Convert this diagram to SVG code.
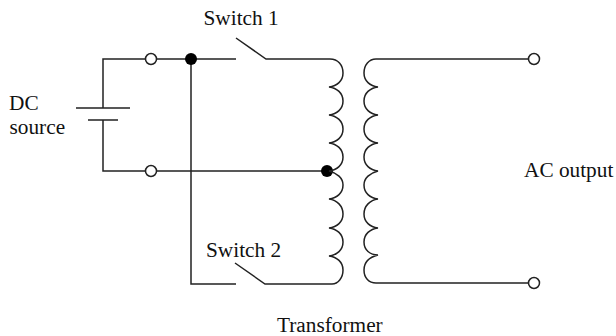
<svg xmlns="http://www.w3.org/2000/svg" width="616" height="336" viewBox="0 0 616 336">
<style>
.w{fill:none;stroke:#222;stroke-width:1.5}
.c{fill:#fff;stroke:#222;stroke-width:1.5}
.d{fill:#000}
text{font-family:"Liberation Serif","Times New Roman",serif;font-size:21.300px;fill:#111}
</style>
<rect width="616" height="336" fill="#fff"/>
<g id="connectors">
<path class="w" d="M146 59H103V108M103 120V171H146M156 59H236M236 38L266 59H330"/>
<path class="w" d="M156 171H327M191 59V284H236M235 263L265 284H332"/>
<path class="w" d="M376 59H528.500M376 283H528.500"/>
</g>
<g id="battery"><path class="w" d="M76 108H130M88 120H118"/></g>
<g id="terminal-1"><circle class="c" cx="151" cy="59" r="5.500"/></g>
<g id="terminal-2"><circle class="c" cx="151" cy="171" r="5.500"/></g>
<g id="terminal-3"><circle class="c" cx="534" cy="59" r="5.500"/></g>
<g id="terminal-4"><circle class="c" cx="534" cy="283" r="5.500"/></g>
<g id="junction-1"><circle class="d" cx="191" cy="59" r="6"/></g>
<g id="junction-2"><circle class="d" cx="327" cy="171" r="6"/></g>
<g id="primary-coil"><path class="w" d="M330 59C338 59 343 65 343 73C343 81 337 86 329 87C337 88 343 93 343 101C343 109 337 114 329 115C337 116 343 121 343 129C343 137 337 142 329 143C337 144 343 149 343 157C343 165 337 170 329 171C337 173 343 178 343 185C343 193 337 198 329 199C337 200 343 206 343 214C343 222 337 227 329 228C337 229 343 234 343 242C343 250 337 255 329 256C337 257 343 262 343 270C343 278 338 284 332 284"/></g>
<g id="secondary-coil"><path class="w" d="M376 59C369 59 364 65 364 73C364 81 370 86 378 87C370 88 364 93 364 101C364 109 370 114 378 115C370 116 364 121 364 129C364 137 370 142 378 143C370 144 364 149 364 157C364 165 370 170 378 171C370 173 364 178 364 185C364 193 370 198 378 199C370 200 364 206 364 214C364 222 370 227 378 228C370 229 364 234 364 242C364 250 370 255 378 255C370 257 364 262 364 270C364 278 369 283 376 283"/></g>
<text x="203.500" y="25">Switch 1</text>
<text x="206" y="257">Switch 2</text>
<text x="9" y="110">DC</text>
<text x="9.500" y="134">source</text>
<text x="524" y="177">AC output</text>
<text x="277" y="332">Transformer</text>
</svg>
